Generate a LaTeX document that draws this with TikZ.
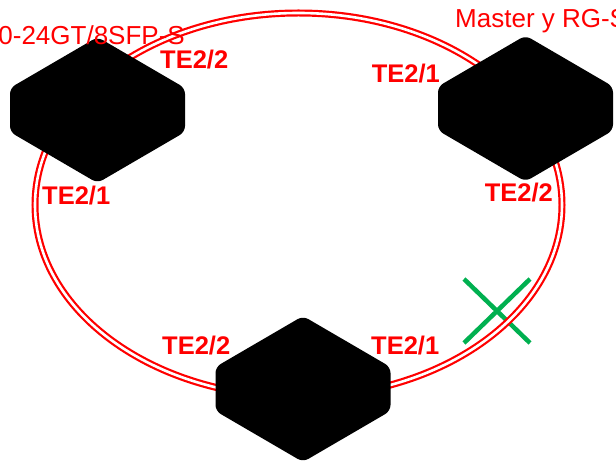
\documentclass[tikz,border=0pt]{standalone}
\usepackage{fontspec}
\setmainfont{Liberation Sans}
\definecolor{xgreen}{RGB}{0,176,80}
\tikzset{
  hexsw/.pic={
    \fill[black,rounded corners=6pt] (0,-73) -- (87.5,-22) -- (87.5,22) -- (0,73) -- (-87.5,22) -- (-87.5,-22) -- cycle;
  },
  port/.style={text=red,font=\fontsize{25.5}{27}\selectfont\bfseries,inner sep=0pt},
  devname/.style={text=red,font=\fontsize{26}{28}\selectfont,inner sep=0pt},
  ring/.style={draw=red,double=white,line width=2.2pt,double distance=2.6pt},
  cross/.style={draw=xgreen,line width=4.5pt}
}
\begin{document}
\begin{tikzpicture}[x=1pt,y=-1pt]
\useasboundingbox[fill=white] (0,0) rectangle (616,462);
% positions
\coordinate (c) at (298.5,205);
\coordinate (s1) at (97.5,110);
\coordinate (s2) at (525.5,108.5);
\coordinate (s3) at (303,389);
\coordinate (xa) at (464,279);
\coordinate (xb) at (530,343);
\coordinate (xc) at (530,279);
\coordinate (xd) at (464,343);
% green cross
\draw[cross] (xa) -- (xb);
\draw[cross] (xc) -- (xd);
% ring
\draw[ring] (c) ellipse [x radius=263.5, y radius=192];
% switches
\pic at (s1) {hexsw};
\pic at (s2) {hexsw};
\pic at (s3) {hexsw};
% device names
\node[devname,anchor=base east] (n1) at (185,45) {0-24GT/8SFP-S};
\node[devname,anchor=base west] (n2) at (455,28) {Master y RG-S};
% port labels
\node[port,anchor=base west] (p1) at (160,69) {TE2/2};
\node[port,anchor=base east] (p2) at (440,83) {TE2/1};
\node[port,anchor=base west] (p3) at (42,205) {TE2/1};
\node[port,anchor=base east] (p4) at (553,202) {TE2/2};
\node[port,anchor=base west] (p5) at (162,355) {TE2/2};
\node[port,anchor=base west] (p6) at (371,355) {TE2/1};
\end{tikzpicture}
\end{document}
